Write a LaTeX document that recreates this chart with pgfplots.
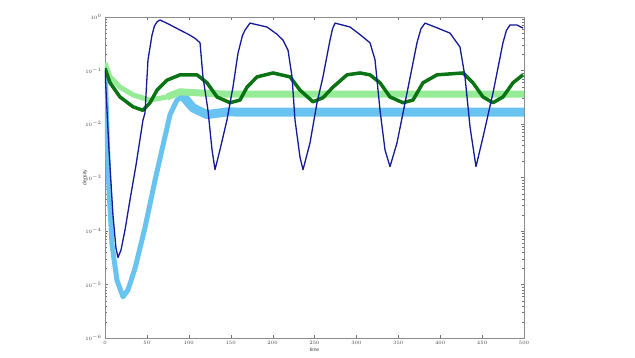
\documentclass[border=0pt]{standalone}
\usepackage{fontspec}
\setmainfont{Liberation Sans}
\usepackage{pgfplots}
\pgfplotsset{compat=1.18}
\definecolor{dblue}{RGB}{20,25,150}
\definecolor{dgreen}{RGB}{10,115,20}
\definecolor{lgreen}{RGB}{150,235,150}
\definecolor{lblue}{RGB}{105,195,240}
\begin{document}
\begin{tikzpicture}
\path[use as bounding box] (0,0) rectangle (635pt,357pt);
\begin{axis}[
  at={(105pt,19pt)}, anchor=south west, scale only axis,
  width=419pt, height=321pt,
  xmin=0, xmax=500, ymode=log, ymin=1e-6, ymax=1,
  xtick={0,50,...,500},
  ytick={1e-6,1e-5,1e-4,1e-3,1e-2,1e-1,1},
  tick label style={font=\fontsize{5}{6}\selectfont, text=black!75},
  axis line style={black!45},
  tick style={black!55},
  major tick length=3.5pt, minor tick length=2pt,
  xlabel={time}, ylabel={density},
  every axis x label/.style={at={(axis description cs:0.5,0)}, anchor=center, yshift=-12pt, font=\fontsize{5}{6}\selectfont, text=black!75},
  every axis y label/.style={at={(axis description cs:0,0.5)}, anchor=center, rotate=90, yshift=20pt, font=\fontsize{5}{6}\selectfont, text=black!75},
]
% light blue early
\addplot[lblue, line width=5pt, line join=round] coordinates {
(0,0.126) (2.4,7.7e-3) (4.8,5.8e-4) (8.4,5.5e-5) (14.3,1.2e-5) (21.5,5.9e-6)
(27.4,7.9e-6) (35.8,2.0e-5) (47.7,1.15e-4) (59.7,8.9e-4) (68,3.3e-3)
(77.6,0.015) (85.9,0.028) (93.1,0.033) (105,0.020)
};
% light blue plateau
\addplot[lblue, line width=9pt, line join=round] coordinates {
(93.1,0.033) (105,0.020) (121.7,0.015) (145.6,0.0168) (200,0.0166) (300,0.0166) (400,0.0166) (500,0.0166)
};
% light green
\addplot[lgreen, line width=5pt, line join=round] coordinates {
(0,0.138) (6,0.076) (17.9,0.049) (33.4,0.035) (53.7,0.028) (74,0.032) (89.5,0.040)
};
\addplot[lgreen, line width=7pt, line join=round] coordinates {
(74,0.032) (89.5,0.040) (113,0.038) (150,0.036) (250,0.036) (350,0.036) (500,0.036)
};
% dark green
\addplot[dgreen, line width=3.5pt, line join=round] coordinates {
(0,0.11) (6,0.059) (17.9,0.032) (33.4,0.021) (45.3,0.018) (53.7,0.025) (62.1,0.043)
(74,0.066) (89.5,0.083) (109.8,0.083) (121.7,0.059) (133.7,0.032) (149.2,0.025)
(161.1,0.028) (169.5,0.049) (181.4,0.076) (200.5,0.090) (220.8,0.076) (232.7,0.043)
(248.2,0.026) (260.1,0.031) (272.1,0.049) (288.8,0.083) (304.3,0.090) (316.2,0.083)
(328.2,0.059) (340.1,0.032) (355.6,0.025) (367.5,0.028) (379.5,0.059) (396.2,0.083)
(427.2,0.090) (439.1,0.059) (451.1,0.032) (463,0.025) (474.9,0.032) (486.9,0.059)
(498.8,0.083)
};
% dark blue
\addplot[dblue, line width=1.3pt, line join=round] coordinates {
(0,0.1) (4.8,3.2e-3) (9.5,2.0e-4) (13.1,4.8e-5) (15.5,3.2e-5) (19.1,4.4e-5)
(23.9,1.05e-4) (29.8,3.8e-4) (37.0,1.7e-3) (45.3,1.18e-2) (47.7,1.6e-2)
(51.3,0.158) (56.1,0.46) (59,0.68) (62.1,0.81) (65.6,0.88) (75,0.75) (89.5,0.57) (100,0.47) (107.4,0.40)
(113.4,0.33) (116.9,0.076) (122.9,0.018) (127.7,3.3e-3) (131.3,1.4e-3)
(137.2,3.3e-3) (145.6,1.2e-2) (152.7,0.049) (158.7,0.21) (164,0.45) (167.1,0.57) (173,0.77)
(193.3,0.65) (205,0.48) (212.4,0.37) (218.4,0.24) (223.2,0.076) (226.7,0.012) (232.7,2.4e-3)
(236.3,1.4e-3) (244.6,4.4e-3) (253,0.025) (260.1,0.076) (268.5,0.37) (271.5,0.6) (274.5,0.77)
(292.4,0.65) (305,0.46) (316.2,0.33) (322.2,0.16) (328.2,0.018) (334.1,3.3e-3) (340.1,1.6e-3)
(348.4,4.4e-3) (360.4,0.038) (372.3,0.33) (377,0.6) (381.9,0.77) (397,0.62) (411.7,0.50) (423.6,0.275)
(429.6,0.076) (435.6,8.8e-3) (442.7,1.6e-3) (451.1,5.7e-3) (463,0.038) (474.9,0.33) (479,0.56)
(483.3,0.71) (491.6,0.71) (498.8,0.62)
};
\end{axis}
\end{tikzpicture}
\end{document}
